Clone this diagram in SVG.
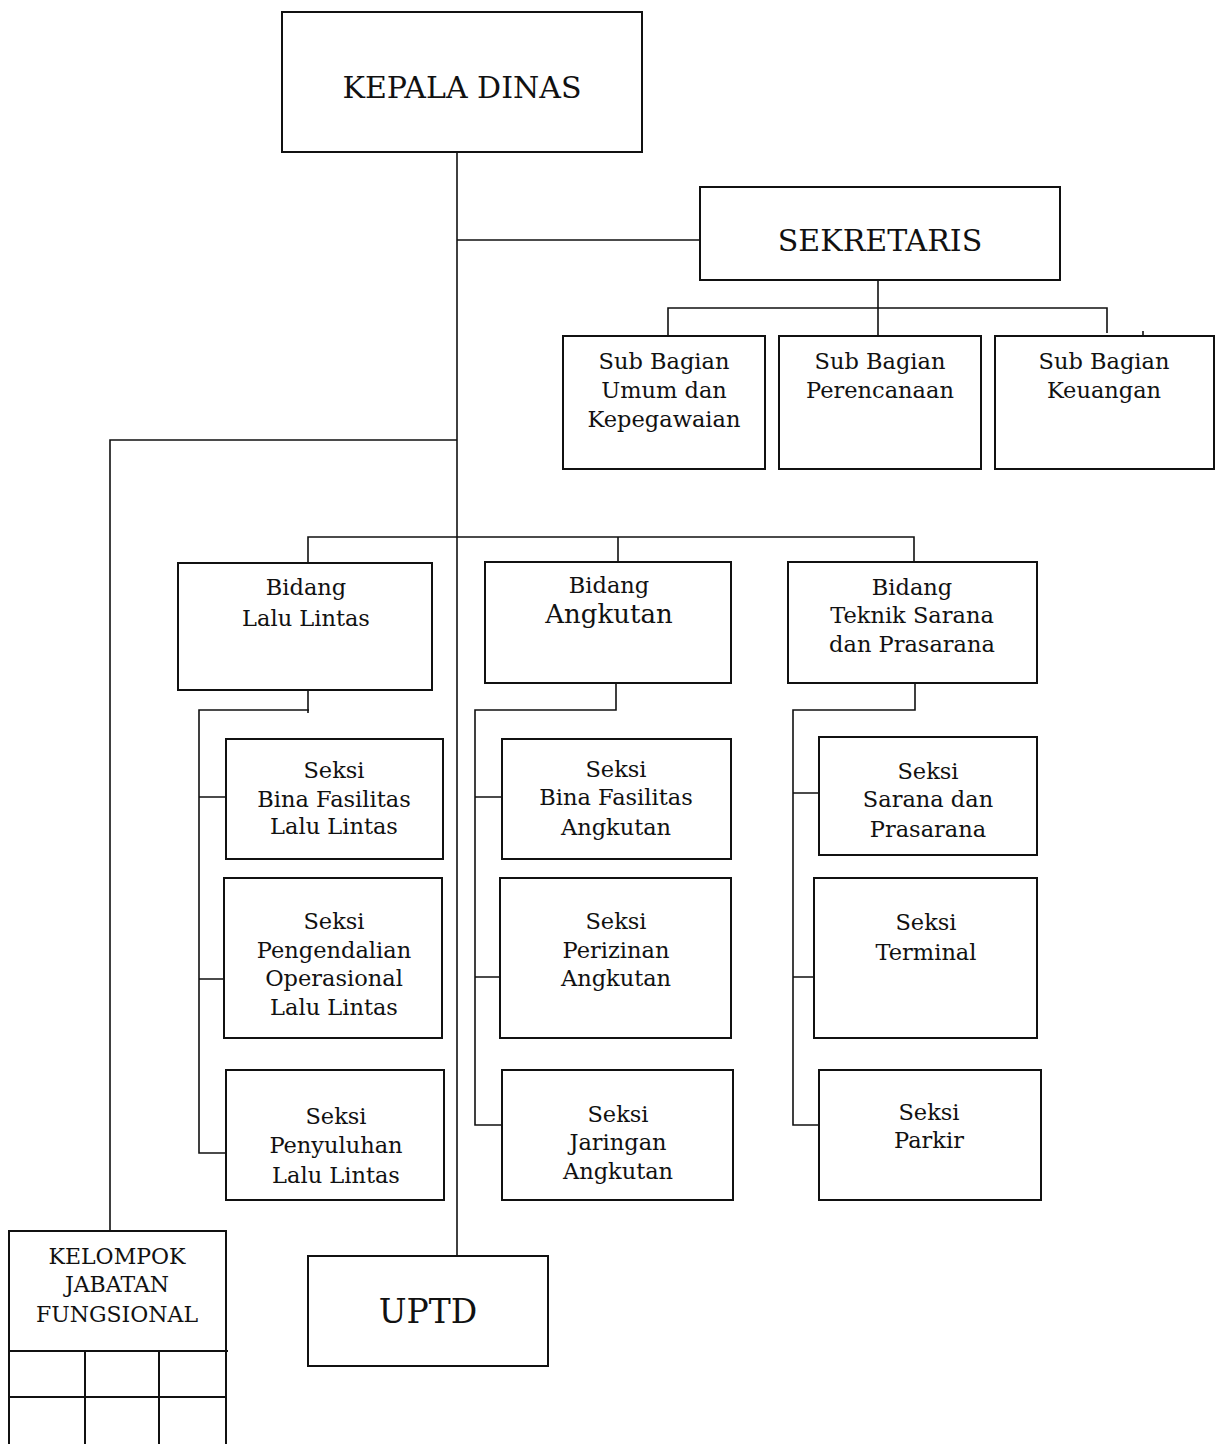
<svg xmlns="http://www.w3.org/2000/svg" width="1217" height="1444" viewBox="0 0 1217 1444">
<style>
.box{fill:#fff;stroke:#111;stroke-width:2}
.ln{fill:none;stroke:#111;stroke-width:1.6}
text{font-family:"DejaVu Serif","Liberation Serif",serif;fill:#111;text-anchor:middle}
.t{font-size:22.5px}
.big{font-size:30px}
.k{font-size:22px}
</style>
<rect width="1217" height="1444" fill="#fff"/>
<g id="connectors">
<path class="ln" d="M457,152V1256"/>
<path class="ln" d="M457,240H700"/>
<path class="ln" d="M878,280V336M668,336V308H1107V333M1143,331V336"/>
<path class="ln" d="M457,440H110V1231"/>
<path class="ln" d="M308,563V537H914V562M618,537V562"/>
<path class="ln" d="M308,691V713M309,710H199V1153H226M199,797H226M199,979H224"/>
<path class="ln" d="M616,683V710H475V1125H502M475,797H502M475,977H500"/>
<path class="ln" d="M915,683V710H793V1125H819M793,793H819M793,977H817"/>
</g>
<g id="kepala-dinas">
<rect class="box" x="282" y="12" width="360" height="140"/>
<text class="big" x="462" y="98">KEPALA DINAS</text>
</g>
<g id="sekretaris">
<rect class="box" x="700" y="187" width="360" height="93"/>
<text class="big" x="880" y="251">SEKRETARIS</text>
</g>
<g id="sub-umum">
<rect class="box" x="563" y="336" width="202" height="133"/>
<text class="t" x="664" y="369">Sub Bagian</text>
<text class="t" x="664" y="398">Umum dan</text>
<text class="t" x="664" y="427">Kepegawaian</text>
</g>
<g id="sub-perencanaan">
<rect class="box" x="779" y="336" width="202" height="133"/>
<text class="t" x="880" y="369">Sub Bagian</text>
<text class="t" x="880" y="398">Perencanaan</text>
</g>
<g id="sub-keuangan">
<rect class="box" x="995" y="336" width="219" height="133"/>
<text class="t" x="1104" y="369">Sub Bagian</text>
<text class="t" x="1104" y="398">Keuangan</text>
</g>
<g id="bidang-lalu-lintas">
<rect class="box" x="178" y="563" width="254" height="127"/>
<text class="t" x="306" y="595">Bidang</text>
<text class="t" x="306" y="626">Lalu Lintas</text>
</g>
<g id="bidang-angkutan">
<rect class="box" x="485" y="562" width="246" height="121"/>
<text class="t" x="609" y="593">Bidang</text>
<text x="609" y="623" style="font-size:26px">Angkutan</text>
</g>
<g id="bidang-teknik">
<rect class="box" x="788" y="562" width="249" height="121"/>
<text class="t" x="912" y="595">Bidang</text>
<text class="t" x="912" y="623">Teknik Sarana</text>
<text class="t" x="912" y="652">dan Prasarana</text>
</g>
<g id="seksi-bina-fasilitas-ll">
<rect class="box" x="226" y="739" width="217" height="120"/>
<text class="t" x="334" y="778">Seksi</text>
<text class="t" x="334" y="807">Bina Fasilitas</text>
<text class="t" x="334" y="834">Lalu Lintas</text>
</g>
<g id="seksi-pengendalian">
<rect class="box" x="224" y="878" width="218" height="160"/>
<text class="t" x="334" y="929">Seksi</text>
<text class="t" x="334" y="958">Pengendalian</text>
<text class="t" x="334" y="986">Operasional</text>
<text class="t" x="334" y="1015">Lalu Lintas</text>
</g>
<g id="seksi-penyuluhan">
<rect class="box" x="226" y="1070" width="218" height="130"/>
<text class="t" x="336" y="1124">Seksi</text>
<text class="t" x="336" y="1153">Penyuluhan</text>
<text class="t" x="336" y="1183">Lalu Lintas</text>
</g>
<g id="seksi-bina-fasilitas-angkutan">
<rect class="box" x="502" y="739" width="229" height="120"/>
<text class="t" x="616" y="777">Seksi</text>
<text class="t" x="616" y="805">Bina Fasilitas</text>
<text class="t" x="616" y="835">Angkutan</text>
</g>
<g id="seksi-perizinan">
<rect class="box" x="500" y="878" width="231" height="160"/>
<text class="t" x="616" y="929">Seksi</text>
<text class="t" x="616" y="958">Perizinan</text>
<text class="t" x="616" y="986">Angkutan</text>
</g>
<g id="seksi-jaringan">
<rect class="box" x="502" y="1070" width="231" height="130"/>
<text class="t" x="618" y="1122">Seksi</text>
<text class="t" x="618" y="1150">Jaringan</text>
<text class="t" x="618" y="1179">Angkutan</text>
</g>
<g id="seksi-sarana">
<rect class="box" x="819" y="737" width="218" height="118"/>
<text class="t" x="928" y="779">Seksi</text>
<text class="t" x="928" y="807">Sarana dan</text>
<text class="t" x="928" y="837">Prasarana</text>
</g>
<g id="seksi-terminal">
<rect class="box" x="814" y="878" width="223" height="160"/>
<text class="t" x="926" y="930">Seksi</text>
<text class="t" x="926" y="960">Terminal</text>
</g>
<g id="seksi-parkir">
<rect class="box" x="819" y="1070" width="222" height="130"/>
<text class="t" x="929" y="1120">Seksi</text>
<text class="t" x="929" y="1148">Parkir</text>
</g>
<g id="uptd">
<rect class="box" x="308" y="1256" width="240" height="110"/>
<text x="428" y="1323" style="font-size:33px">UPTD</text>
</g>
<g id="kelompok-jabatan-fungsional">
<path class="box" d="M9,1446V1231H226V1446"/>
<path class="ln" style="stroke-width:2" d="M8,1351H228M8,1397H226M85,1351V1446M159,1351V1446"/>
<text class="k" x="117" y="1264">KELOMPOK</text>
<text class="k" x="117" y="1292">JABATAN</text>
<text class="k" x="117" y="1322">FUNGSIONAL</text>
</g>
</svg>
